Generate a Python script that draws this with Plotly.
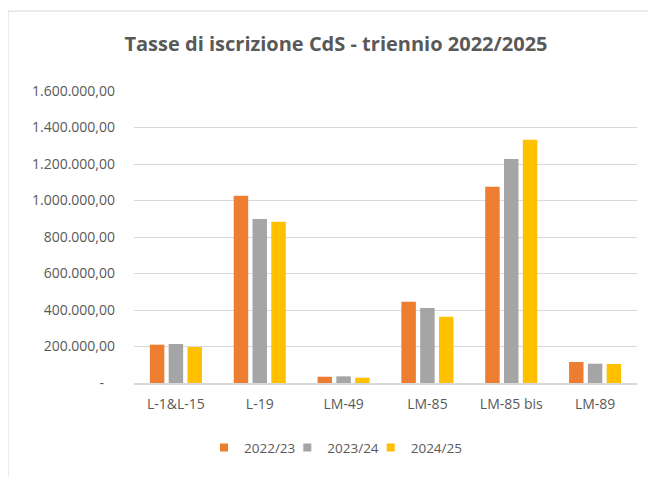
import plotly.graph_objects as go

categories = ["L-1&L-15", "L-19", "LM-49", "LM-85", "LM-85 bis", "LM-89"]
series_names = ["2022/23", "2023/24", "2024/25"]
values_2022_23 = [210000, 1026000, 34500, 445500, 1075600, 115000]
values_2023_24 = [213700, 898600, 36500, 411000, 1227400, 105700]
values_2024_25 = [197000, 884000, 29000, 363300, 1333200, 104000]
y_tick_vals = [0, 200000, 400000, 600000, 800000, 1000000, 1200000, 1400000, 1600000]
y_tick_text = ["-\u00a0\u00a0\u00a0", "200.000,00", "400.000,00", "600.000,00", "800.000,00",
               "1.000.000,00", "1.200.000,00", "1.400.000,00", "1.600.000,00"]
colors = ["#ED7D31", "#A5A5A5", "#FFC000"]

FONT = "Open Sans"
TXT = "#595959"
FS = 14

# page body has an 8px margin; plot area in page coords: x 134..637, y 91..383.3
L, T = 126, 83
R = 656 - 629
B = 477 - 375.3
PH = 375.3 - 83
PW = 629 - 126

legend_ids = ["legend", "legend2", "legend3"]
legend_left_px = [196, 279.3, 362.7]  # figure px for legend box left edges

fig = go.Figure()
for name, vals, col, lid in zip(series_names, [values_2022_23, values_2023_24, values_2024_25],
                                colors, legend_ids):
    fig.add_trace(go.Bar(x=categories, y=vals, name=name, marker=dict(color=col, line=dict(width=0)),
                         showlegend=False))
    fig.add_trace(go.Scatter(x=[None], y=[None], mode="markers", name=name, legend=lid,
                             marker=dict(symbol="square", size=8, color=col)))

legend_common = dict(orientation="h", xanchor="left", yanchor="middle",
                     y=(375.3 - 440) / PH,
                     font=dict(family=FONT, size=13.5, color=TXT), itemwidth=30,
                     bgcolor="rgba(0,0,0,0)")

layout_legends = {}
for lid, px in zip(legend_ids, legend_left_px):
    layout_legends[lid] = dict(legend_common, x=(px - L) / PW)

fig.update_layout(
    width=656, height=477,
    margin=dict(l=L, r=R, t=T, b=B),
    paper_bgcolor="white", plot_bgcolor="white",
    barmode="group", bargap=0.327, bargroupgap=0.23,
    font=dict(family=FONT, size=FS, color=TXT),
    title=dict(text="<b>Tasse di iscrizione CdS - triennio 2022/2025</b>",
               x=328 / 656, xref="container", xanchor="center",
               y=1 - 35.7 / 477, yref="container", yanchor="middle",
               font=dict(family=FONT, size=20, color=TXT)),
    xaxis=dict(showgrid=False, showline=True, linecolor="#D9D9D9", linewidth=1.5,
               ticks="", ticklabelstandoff=7, tickfont=dict(family=FONT, size=FS, color=TXT)),
    yaxis=dict(range=[0, 1600000], tickvals=y_tick_vals, ticktext=y_tick_text,
               showgrid=True, gridcolor="#D9D9D9", gridwidth=1, zeroline=False,
               showline=False, ticks="", ticklabelstandoff=18,
               tickfont=dict(family=FONT, size=FS, color=TXT)),
    shapes=[dict(type="rect", xref="paper", yref="paper",
                 x0=(0 - L) / PW, x1=1.2, y0=-0.6, y1=(375.3 - 3) / PH,
                 line=dict(color="#D9D9D9", width=1), fillcolor="rgba(0,0,0,0)", layer="below")],
    **layout_legends,
)

fig.write_html("out.html")
